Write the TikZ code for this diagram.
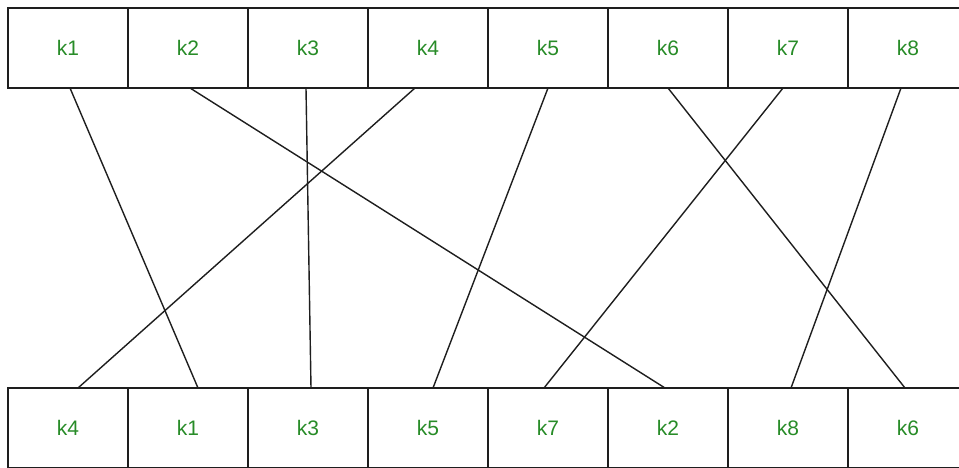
\documentclass[tikz,border=0pt]{standalone}
\usepackage{fontspec}
\setmainfont{Liberation Sans}
\usetikzlibrary{calc}
\definecolor{keygreen}{RGB}{40,140,40}
\definecolor{edgegray}{RGB}{30,30,30}
\tikzset{
  keybox/.style={draw=edgegray, line width=1.5pt, minimum width=120pt, minimum height=80pt, inner sep=0pt, outer sep=0pt, text=keygreen, font=\fontsize{21pt}{24pt}\selectfont},
  link/.style={draw=edgegray, line width=1.4pt}
}
\begin{document}
\begin{tikzpicture}[x=1pt,y=-1pt]
\useasboundingbox (0,0) rectangle (959,468);
\clip (0,0) rectangle (959,468);
\fill[white] (0,0) rectangle (959,468);
% top row
\foreach \i/\lab in {1/k1,2/k2,3/k3,4/k4,5/k5,6/k6,7/k7,8/k8}{
  \node[keybox] (t\i) at ({8+120*(\i-1)+60},48) {\lab};
}
% bottom row
\foreach \i/\lab in {1/k4,2/k1,3/k3,4/k5,5/k7,6/k2,7/k8,8/k6}{
  \node[keybox] (b\i) at ({8+120*(\i-1)+60},428) {\lab};
}
% connectors
\draw[link] ($(t1.south)+(2,0)$) -- ($(b2.north)+(10,0)$);
\draw[link] ($(t2.south)+(2,0)$) -- ($(b6.north)+(-3,0)$);
\draw[link] ($(t3.south)+(-2,0)$) -- ($(b3.north)+(3,0)$);
\draw[link] ($(t4.south)+(-13,0)$) -- ($(b1.north)+(10,0)$);
\draw[link] ($(t5.south)+(0,0)$) -- ($(b4.north)+(5,0)$);
\draw[link] ($(t6.south)+(0,0)$) -- ($(b8.north)+(-3,0)$);
\draw[link] ($(t7.south)+(-5,0)$) -- ($(b5.north)+(-4,0)$);
\draw[link] ($(t8.south)+(-7,0)$) -- ($(b7.north)+(3,0)$);
\end{tikzpicture}
\end{document}
